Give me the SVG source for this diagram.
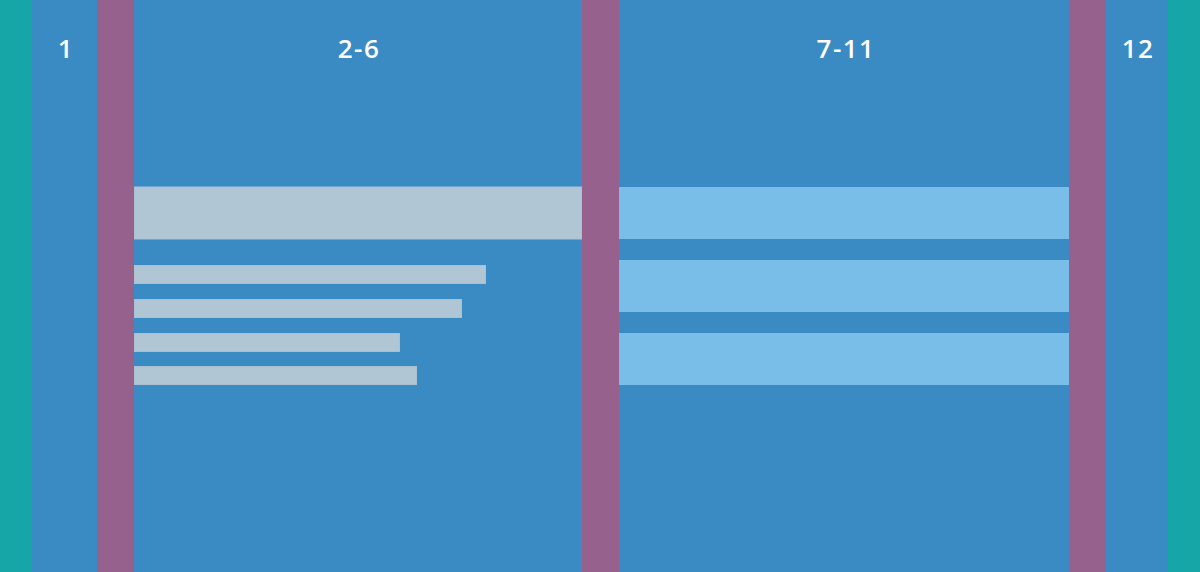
<svg xmlns="http://www.w3.org/2000/svg" width="1200" height="572" viewBox="0 0 1200 572">
<style>
.teal{fill:#17a6a8}
.col{fill:#3a8ac4}
.gut{fill:#96618c}
.grey{fill:#b1c6d5;stroke:#a9c0d2;stroke-width:1}
.lb{fill:#79bde9}
.lbl{fill:#ffffff;font-family:"Open Sans",sans-serif;font-size:26px;font-weight:600;text-anchor:middle;letter-spacing:1.5px}
</style>
<rect width="1200" height="572" class="col"/>
<rect x="0" y="0" width="32" height="572" class="teal"/>
<rect x="1168" y="0" width="32" height="572" class="teal"/>
<g id="col1"><rect x="32" y="0" width="65" height="572" class="col"/><text x="66" y="58" class="lbl">1</text></g>
<rect x="97" y="0" width="37" height="572" class="gut"/>
<g id="col2-6">
<rect x="134" y="0" width="448" height="572" class="col"/>
<text x="359" y="58" class="lbl">2-6</text>
<rect x="134.5" y="187" width="447" height="52" class="grey"/>
<rect x="134.5" y="265.5" width="351" height="18" class="grey"/>
<rect x="134.5" y="299.5" width="327" height="18" class="grey"/>
<rect x="134.5" y="333.5" width="265" height="18" class="grey"/>
<rect x="134.5" y="366.5" width="282" height="18" class="grey"/>
</g>
<rect x="582" y="0" width="37" height="572" class="gut"/>
<g id="col7-11">
<rect x="619" y="0" width="450" height="572" class="col"/>
<text x="846" y="58" class="lbl">7-11</text>
<rect x="619" y="187" width="450" height="52" class="lb"/>
<rect x="619" y="260" width="450" height="52" class="lb"/>
<rect x="619" y="333" width="450" height="52" class="lb"/>
</g>
<rect x="1069" y="0" width="37" height="572" class="gut"/>
<g id="col12"><rect x="1106" y="0" width="62" height="572" class="col"/><text x="1138" y="58" class="lbl">12</text></g>
<g id="connectors"></g>
</svg>
